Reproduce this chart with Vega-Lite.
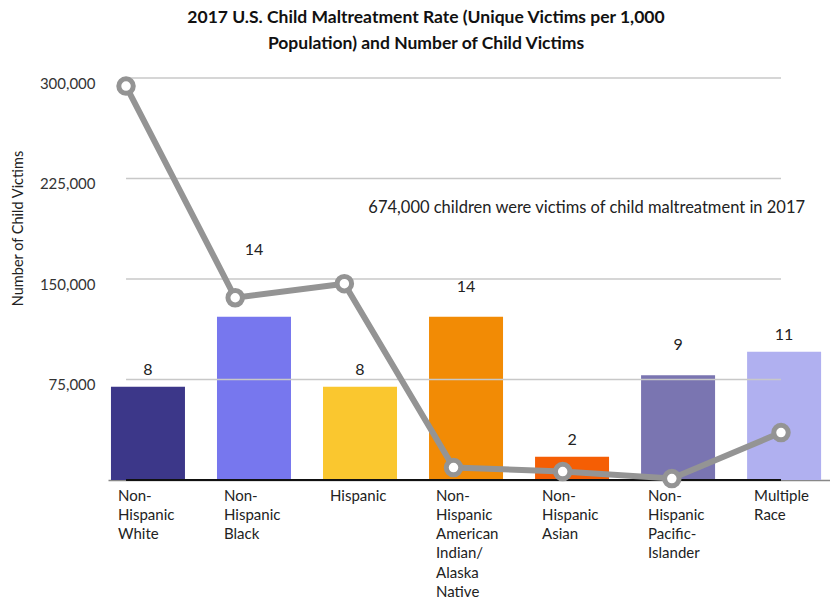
{
  "$schema": "https://vega.github.io/schema/vega-lite/v6.json",
  "width": 722,
  "height": 402,
  "autosize": {"type": "none"},
  "padding": {"left": 108, "top": 78, "right": 0, "bottom": 121},
  "background": "white",
  "config": {"view": {"stroke": null}, "font": "Lato"},
  "title": {
    "text": ["2017 U.S. Child Maltreatment Rate (Unique Victims per 1,000", "Population) and Number of Child Victims"],
    "font": "Lato",
    "fontSize": 17.5,
    "fontWeight": "bold",
    "color": "#111111",
    "anchor": "middle",
    "dx": -43,
    "offset": 16,
    "lineHeight": 26
  },
  "datasets": {
    "groups": [
      {"group": "Non-Hispanic White", "rate": 8, "victims": 294000},
      {"group": "Non-Hispanic Black", "rate": 14, "victims": 136000},
      {"group": "Hispanic", "rate": 8, "victims": 146500},
      {"group": "Non-Hispanic American Indian/Alaska Native", "rate": 14, "victims": 9300},
      {"group": "Non-Hispanic Asian", "rate": 2, "victims": 6300},
      {"group": "Non-Hispanic Pacific-Islander", "rate": 9, "victims": 1100},
      {"group": "Multiple Race", "rate": 11, "victims": 35400}
    ],
    "grid": [{"v": 0}, {"v": 75000}, {"v": 150000}, {"v": 225000}, {"v": 300000}]
  },
  "layer": [
    {
      "layer": [
        {
          "data": {"name": "grid"},
          "mark": {"type": "rule", "opacity": 0},
          "encoding": {
            "y": {
              "field": "v",
              "type": "quantitative",
              "scale": {"domain": [0, 300000]},
              "axis": {
                "orient": "left",
                "values": [75000, 150000, 225000, 300000],
                "labelExpr": "format(datum.value, ',')",
                "grid": false,
                "domain": false,
                "ticks": false,
                "labelFont": "Lato",
                "labelFontSize": 15,
                "labelColor": "#333333",
                "labelPadding": 13,
                "labelOffset": 5,
                "title": "Number of Child Victims",
                "titleFont": "Lato",
                "titleFontSize": 14.5,
                "titleFontWeight": "normal",
                "titleColor": "#222222",
                "titleAngle": -90,
                "titleX": -90,
                "titleY": 150,
                "titleAlign": "center",
                "titleBaseline": "middle"
              }
            }
          }
        }
      ]
    },
    {
      "data": {"name": "groups"},
      "encoding": {
        "x": {
          "field": "group",
          "type": "nominal",
          "sort": null,
          "scale": {"type": "band", "paddingInner": 0.302, "paddingOuter": 0.056, "align": 0.25},
          "axis": {
            "title": null,
            "ticks": false,
            "domainColor": "#888888",
            "domainWidth": 1.5,
            "labelAngle": 0,
            "labelAlign": "left",
            "labelBaseline": "top",
            "labelOffset": -30,
            "labelPadding": 8,
            "labelFont": "Lato",
            "labelFontSize": 15,
            "labelColor": "#222222",
            "labelLineHeight": 19.3,
            "labelOverlap": false,
            "labelLimit": 0,
            "labelExpr": "split(replace(replace(datum.value, /-/g, '- '), /\\//g, '/ '), ' ')"
          }
        },
        "y": {"field": "rate", "type": "quantitative", "scale": {"domain": [0, 34.5]}, "axis": null}
      },
      "layer": [
        {
          "mark": {"type": "bar"},
          "encoding": {
            "color": {
              "field": "group",
              "type": "nominal",
              "sort": null,
              "legend": null,
              "scale": {
                "domain": ["Non-Hispanic White", "Non-Hispanic Black", "Hispanic", "Non-Hispanic American Indian/Alaska Native", "Non-Hispanic Asian", "Non-Hispanic Pacific-Islander", "Multiple Race"],
                "range": ["#3c3789", "#7777ee", "#fac72f", "#f28b05", "#f55e04", "#7a75b1", "#b0b0f0"]
              }
            }
          }
        },
        {
          "transform": [{"filter": "indexof(['Non-Hispanic White','Hispanic','Non-Hispanic Asian','Multiple Race'], datum.group) >= 0"}],
          "mark": {"type": "text", "dy": -17, "baseline": "middle", "fontSize": 16, "font": "Lato", "color": "#222222"},
          "encoding": {"text": {"field": "rate", "type": "quantitative"}}
        },
        {
          "transform": [{"filter": "indexof(['Non-Hispanic American Indian/Alaska Native','Non-Hispanic Pacific-Islander'], datum.group) >= 0"}],
          "mark": {"type": "text", "dy": -30, "baseline": "middle", "fontSize": 16, "font": "Lato", "color": "#222222"},
          "encoding": {"text": {"field": "rate", "type": "quantitative"}}
        },
        {
          "transform": [{"filter": "datum.group == 'Non-Hispanic Black'"}],
          "mark": {"type": "text", "dy": -67, "baseline": "middle", "fontSize": 16, "font": "Lato", "color": "#222222"},
          "encoding": {"text": {"field": "rate", "type": "quantitative"}}
        }
      ]
    },
    {
      "layer": [
        {
          "data": {"name": "grid"},
          "mark": {"type": "rule"},
          "encoding": {
            "x": {"datum": "Non-Hispanic White", "type": "nominal", "axis": null,
              "scale": {"type": "point", "domain": ["Non-Hispanic White", "Non-Hispanic Black", "Hispanic", "Non-Hispanic American Indian/Alaska Native", "Non-Hispanic Asian", "Non-Hispanic Pacific-Islander", "Multiple Race"], "padding": 0.307, "align": 0.269}},
            "x2": {"datum": "Multiple Race"},
            "y": {"field": "v", "type": "quantitative", "axis": null, "scale": {"domain": [0, 300000]}},
            "color": {"condition": {"test": "datum.v == 0", "value": "#111111"}, "value": "#c8c8c8"},
            "strokeWidth": {"condition": {"test": "datum.v == 0", "value": 2}, "value": 1.5}
          }
        },
        {
          "data": {"name": "groups"},
          "mark": {"type": "line", "color": "#949494", "strokeWidth": 6},
          "encoding": {
            "x": {"field": "group", "type": "nominal", "sort": null, "axis": null},
            "y": {"field": "victims", "type": "quantitative", "axis": null}
          }
        },
        {
          "data": {"name": "groups"},
          "mark": {"type": "point", "filled": true, "fill": "white", "stroke": "#949494", "strokeWidth": 5, "size": 210, "opacity": 1},
          "encoding": {
            "x": {"field": "group", "type": "nominal", "sort": null, "axis": null},
            "y": {"field": "victims", "type": "quantitative", "axis": null}
          }
        },
        {
          "data": {"values": [{"note": "674,000 children were victims of child maltreatment in 2017"}]},
          "mark": {"type": "text", "align": "left", "baseline": "middle", "dx": 24, "dy": -4, "fontSize": 16.5, "font": "Lato", "color": "#222222"},
          "encoding": {
            "x": {"datum": "Hispanic", "type": "nominal", "axis": null},
            "y": {"datum": 200000, "type": "quantitative", "axis": null},
            "text": {"field": "note", "type": "nominal"}
          }
        }
      ]
    }
  ],
  "resolve": {"scale": {"x": "independent", "y": "independent"}}
}
